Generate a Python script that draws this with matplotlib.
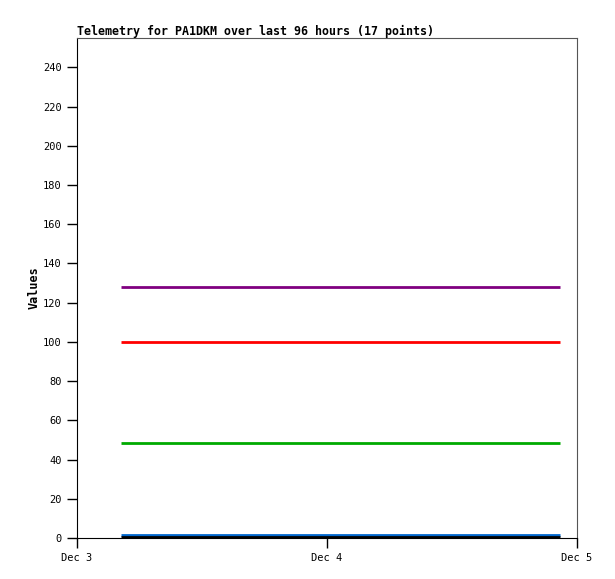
import matplotlib
matplotlib.use("Agg")
import matplotlib.pyplot as plt
import numpy as np
from datetime import datetime, timedelta

# 17 telemetry samples (hours after Dec 3 00:00)
sample_hours = [4.2, 6.9, 9.5, 12.1, 14.8, 17.4, 20.0, 22.7, 25.3,
                27.9, 30.6, 33.2, 35.8, 38.5, 41.1, 43.7, 46.4]
purple_vals = [128] * 17
red_vals = [100] * 17
green_vals = [48.5] * 17
blue_vals = [1.5] * 17
black_vals = [0.3] * 17
xtick_labels = ["Dec 3", "Dec 4", "Dec 5"]

base = datetime(2023, 12, 3)
times = [base + timedelta(hours=h) for h in sample_hours]

plt.rcParams['font.family'] = ['DejaVu Sans Mono']
fig = plt.figure(figsize=(6.15, 5.79), dpi=100)
ax = fig.add_axes([77/615, 1 - 538/579, 500/615, 500/579])

series = [(purple_vals, "#800080"), (red_vals, "#ff0000"),
          (green_vals, "#00aa00"), (blue_vals, "#0066cc"),
          (black_vals, "#000000")]
for vals, c in series:
    ax.plot(times, vals, color=c, lw=2.0, solid_capstyle='butt')

ax.set_xlim(base, base + timedelta(days=2))
ax.set_ylim(0, 255)
ax.set_yticks(np.arange(0, 241, 20))
ax.set_xticks([base + timedelta(days=i) for i in range(3)])
ax.set_xticklabels(xtick_labels)
ax.tick_params(axis='both', direction='out', length=7, width=1, labelsize=7.5, colors='black')
ax.tick_params(axis='x', pad=4)
ax.tick_params(axis='y', pad=4)
for s in ['top', 'right']:
    ax.spines[s].set_color('#555555')
for s in ['left', 'bottom']:
    ax.spines[s].set_color('black')
ax.set_ylabel("Values", fontsize=8.5, fontweight='bold', labelpad=2)
ax.set_title("Telemetry for PA1DKM over last 96 hours (17 points)", loc='left',
             fontsize=8.4, fontweight='bold', pad=2)
fig.savefig("out.png", dpi=100)
